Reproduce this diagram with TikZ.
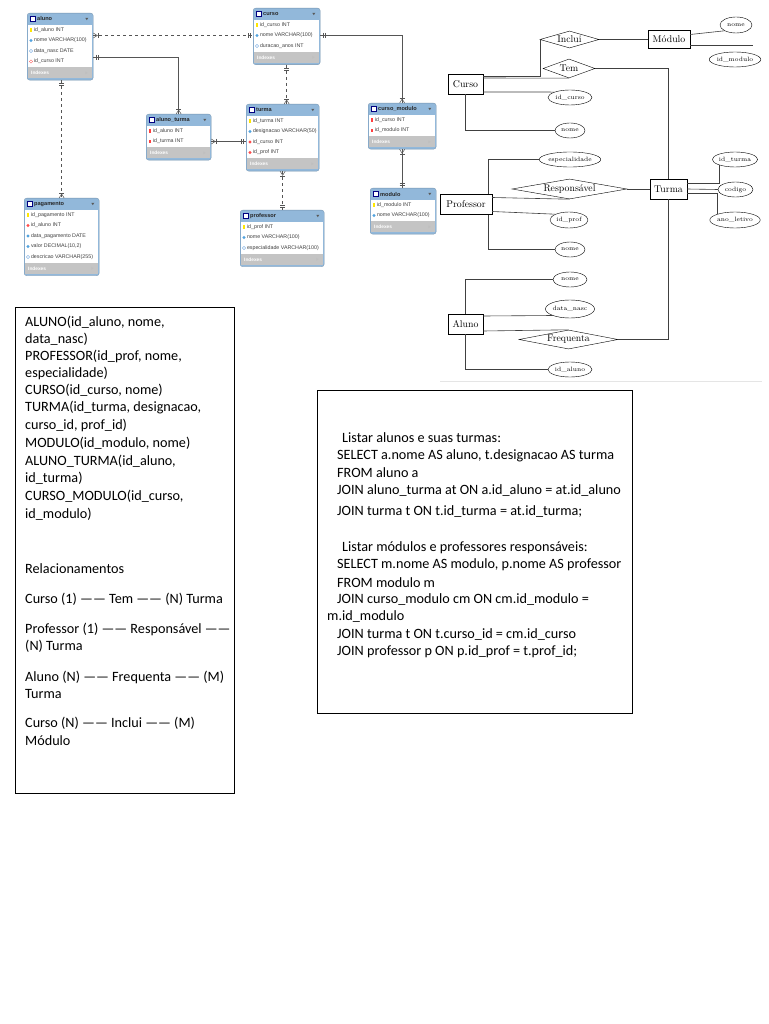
\documentclass[tikz,border=0pt]{standalone}
\usepackage{fontspec}
\usepackage{tikz}
\usetikzlibrary{shapes.geometric}
\usetikzlibrary{calc}

\newfontfamily\calibri{Carlito}
\newfontfamily\wbfont{Liberation Sans}

\definecolor{tazul}{RGB}{146,184,218}
\definecolor{tcinza}{RGB}{196,196,196}
\definecolor{linhacinza}{RGB}{85,85,85}

\tikzset{
  tabela/.style={fill=tazul, draw=tazul!80!black, line width=0.3pt, rounded corners=2.5pt, inner sep=0pt},
  titulo/.style={anchor=west, inner sep=0pt, font=\wbfont\bfseries\fontsize{5.6}{6}\selectfont, text=black!85},
  campo/.style={anchor=west, inner sep=0pt, font=\wbfont\fontsize{5.3}{6}\selectfont, text=black!75},
  indices/.style={anchor=west, inner sep=0pt, font=\wbfont\bfseries\fontsize{4.8}{5}\selectfont, text=white},
  pk/.style={rectangle, fill=yellow!90!orange, minimum width=1.6pt, minimum height=3.4pt, inner sep=0pt},
  fkpk/.style={pk, fill=red!75},
  nn/.style={diamond, fill=cyan!70!blue!70, minimum size=3.6pt, inner sep=0pt},
  nl/.style={diamond, draw=cyan!60!blue!60, line width=0.3pt, fill=white, minimum size=3.4pt, inner sep=0pt},
  fk/.style={nn, fill=red!70},
  fknl/.style={nl, draw=red!60},
  liga/.style={draw=linhacinza, line width=0.6pt},
  muitos/.pic={
    \draw[linhacinza, line width=0.5pt] (0pt,2.5pt) -- (4pt,0pt) -- (0pt,-2.5pt);
    \draw[linhacinza, line width=0.5pt] (5pt,2.5pt) -- (5pt,-2.5pt);
  },
  um/.pic={
    \draw[linhacinza, line width=0.5pt] (3pt,2.5pt) -- (3pt,-2.5pt);
    \draw[linhacinza, line width=0.5pt] (5pt,2.5pt) -- (5pt,-2.5pt);
  },
  entidade/.style={draw, rectangle, inner sep=0pt, font=\fontsize{9.8}{11}\selectfont},
  relacao/.style={draw, diamond, inner sep=0pt, font=\fontsize{9.8}{11}\selectfont},
  atributo/.style={draw, ellipse, inner sep=0pt, font=\fontsize{6.2}{7}\selectfont},
  er/.style={draw=black!75, line width=0.6pt},
  linha/.style={anchor=west, inner sep=0pt, font=\calibri\fontsize{14.2}{17}\selectfont},
}

% tabela do workbench: nome, x, y, largura, n. de campos, titulo, campos
\newcommand{\tabela}[7]{%
  \node[tabela, minimum width=#4pt, minimum height={25pt+#5*10.5pt}, anchor=north west] (#1) at (#2,#3) {};
  \fill[white] ([shift={(1.2pt,-12pt)}]#1.north west) rectangle ([shift={(-1.2pt,13pt)}]#1.south east);
  \fill[tcinza] ([shift={(1.2pt,13pt)}]#1.south west) rectangle ([shift={(-1.2pt,2pt)}]#1.south east);
  \draw[blue!50!black, fill=white, line width=0.3pt] ([shift={(3pt,-3.5pt)}]#1.north west) rectangle ++(5pt,-5pt);
  \node[titulo] (#1-t) at ([shift={(10pt,-6pt)}]#1.north west) {#6};
  \fill[gray!70!black] ([shift={(-8pt,-4.8pt)}]#1.north east) -- ++(3pt,0pt) -- ++(-1.5pt,-2.4pt) -- cycle;
  \foreach \tipo/\nome [count=\i] in {#7} {
    \node[\tipo] at ([shift={(4pt,{-6.5pt-\i*10.5pt})}]#1.north west) {};
    \node[campo] (#1-\i) at ([shift={(6.8pt,{-6.5pt-\i*10.5pt})}]#1.north west) {\nome};
  }
  \node[indices] (#1-x) at ([shift={(4pt,7.5pt)}]#1.south west) {Indexes};
  \fill[gray!50] ([shift={(-8pt,9pt)}]#1.south east) -- ++(2.4pt,-1.5pt) -- ++(-2.4pt,-1.5pt) -- cycle;
}

\begin{document}
\begin{tikzpicture}[x=1pt, y=-1pt]
	\useasboundingbox (0,0) rectangle (768,1024);
	\fill[white] (0,0) rectangle (768,1024);

	% modelo fisico
	\tabela{aluno}{27}{13}{66}{4}{aluno}{pk/{id\_aluno INT}, nn/{nome VARCHAR(100)}, nl/{data\_nasc DATE}, fknl/{id\_curso INT}}
	\tabela{curso}{253}{8}{67}{3}{curso}{pk/{id\_curso INT}, nn/{nome VARCHAR(100)}, nl/{duracao\_anos INT}}
	\tabela{alunoturma}{146}{114}{65}{2}{aluno\_turma}{fkpk/{id\_aluno INT}, fkpk/{id\_turma INT}}
	\tabela{turma}{246}{104}{73}{4}{turma}{pk/{id\_turma INT}, nn/{designacao VARCHAR(50)}, fk/{id\_curso INT}, fk/{id\_prof INT}}
	\tabela{cursomodulo}{368}{103}{68}{2}{curso\_modulo}{fkpk/{id\_curso INT}, fkpk/{id\_modulo INT}}
	\tabela{modulo}{370}{188}{66}{2}{modulo}{pk/{id\_modulo INT}, nn/{nome VARCHAR(100)}}
	\tabela{pagamento}{24}{198}{75}{5}{pagamento}{pk/{id\_pagamento INT}, fk/{id\_aluno INT}, nn/{data\_pagamento DATE}, nn/{valor DECIMAL(10,2)}, nl/{descricao VARCHAR(255)}}
	\tabela{professor}{240}{210}{84}{3}{professor}{pk/{id\_prof INT}, nn/{nome VARCHAR(100)}, nl/{especialidade VARCHAR(100)}}

	\coordinate (c1) at ($(aluno.east |- aluno-4)+(0,-4)$);
	\draw[liga, dashed] (aluno.east |- curso-2) -- (curso.west |- curso-2);
	\draw[liga] (c1) -| (alunoturma.north);
	\draw[liga] (curso.east |- curso-2) -| (cursomodulo.north);
	\draw[liga, dashed] (curso.south) -- (curso.south |- turma.north);
	\draw[liga] (alunoturma.east |- alunoturma-2) -- (turma.west |- alunoturma-2);
	\draw[liga] (cursomodulo.south) -- (cursomodulo.south |- modulo.north);
	\draw[liga, dashed] (turma.south) -- (turma.south |- professor.north);
	\draw[liga, dashed] (pagamento.north |- aluno.south) -- (pagamento.north);
	\pic at (aluno.east |- curso-2) {muitos};
	\pic[rotate=180] at (curso.west |- curso-2) {um};
	\pic at (c1) {um};
	\pic[rotate=90] at (alunoturma.north) {muitos};
	\pic at (curso.east |- curso-2) {um};
	\pic[rotate=90] at (cursomodulo.north) {muitos};
	\pic[rotate=-90] at (curso.south) {um};
	\pic[rotate=90] at (curso.south |- turma.north) {muitos};
	\pic at (alunoturma.east |- alunoturma-2) {muitos};
	\pic[rotate=180] at (turma.west |- alunoturma-2) {um};
	\pic[rotate=-90] at (cursomodulo.south) {muitos};
	\pic[rotate=90] at (cursomodulo.south |- modulo.north) {um};
	\pic[rotate=-90] at (turma.south) {muitos};
	\pic[rotate=90] at (turma.south |- professor.north) {um};
	\pic[rotate=-90] at (pagamento.north |- aluno.south) {um};
	\pic[rotate=90] at (pagamento.north) {muitos};

	% diagrama ER
	\node[entidade, minimum width=35pt, minimum height=20pt] (curso-e) at (465.5,84) {Curso};
	\node[entidade, minimum width=42pt, minimum height=18pt] (modulo-e) at (669,39.5) {Módulo};
	\node[entidade, minimum width=52pt, minimum height=20pt] (prof-e) at (466,204.5) {Professor};
	\node[entidade, minimum width=37pt, minimum height=20pt] (turma-e) at (668.5,189) {Turma};
	\node[entidade, minimum width=35pt, minimum height=20pt] (aluno-e) at (465.5,324) {Aluno};
	\node[relacao, aspect=3.5, minimum width=59pt, minimum height=17pt] (inclui) at (569.5,39.5) {Inclui};
	\node[relacao, aspect=2.7, minimum width=52pt, minimum height=19pt] (tem) at (569,68.5) {Tem};
	\node[relacao, aspect=5.75, minimum width=115pt, minimum height=20pt] (resp) at (569.5,189) {Responsável};
	\node[relacao, aspect=5.2, minimum width=99pt, minimum height=19pt] (freq) at (568.5,339.5) {Frequenta};
	\node[atributo, minimum width=32pt, minimum height=16pt] (a-mnome) at (736,25) {nome};
	\node[atributo, minimum width=50pt, minimum height=15pt] (a-idmod) at (735,59.5) {id\_modulo};
	\node[atributo, minimum width=44pt, minimum height=15pt] (a-idcurso) at (570,97.5) {id\_curso};
	\node[atributo, minimum width=30pt, minimum height=15pt] (a-cnome) at (570,130.5) {nome};
	\node[atributo, minimum width=60pt, minimum height=15pt] (a-esp) at (570,159.5) {especialidade};
	\node[atributo, minimum width=38pt, minimum height=16pt] (a-idprof) at (569,220) {id\_prof};
	\node[atributo, minimum width=30pt, minimum height=15pt] (a-pnome) at (570,249.5) {nome};
	\node[atributo, minimum width=44pt, minimum height=15pt] (a-idturma) at (735,159.5) {id\_turma};
	\node[atributo, minimum width=35pt, minimum height=15pt] (a-codigo) at (735.5,189.5) {codigo};
	\node[atributo, minimum width=50pt, minimum height=16pt] (a-ano) at (735,220) {ano\_letivo};
	\node[atributo, minimum width=34pt, minimum height=15pt] (a-anome) at (570,279.5) {nome};
	\node[atributo, minimum width=48pt, minimum height=18pt] (a-dnasc) at (570,309) {data\_nasc};
	\node[atributo, minimum width=44pt, minimum height=15pt] (a-idaluno) at (570,369.5) {id\_aluno};

	\draw[er] ([yshift=8pt]curso-e.east) -| (inclui.west);
	\draw[er] ([yshift=6pt]curso-e.east) -- (tem.south);
	\draw[er] ([yshift=-8pt]curso-e.east) -- (a-idcurso.north west);
	\draw[er] (curso-e.south) |- (a-cnome.west);
	\draw[er] (inclui.east) -- (modulo-e.west);
	\draw[er] ([yshift=5pt]modulo-e.east) -- (a-mnome.south west);
	\draw[er] ([yshift=-6pt]modulo-e.east) -- ([yshift=-6pt]modulo-e.east -| a-idmod.north east);
	\draw[er] (tem.east) -| (turma-e.north);
	\draw[er] ([xshift=-4pt]prof-e.north east) |- (a-esp.west);
	\draw[er] ([yshift=7pt]prof-e.east) -- (resp.south);
	\draw[er] (resp.east) -- (turma-e.west);
	\draw[er] ([yshift=-7pt]prof-e.east) -- (a-idprof.north west);
	\draw[er] ([xshift=-4pt]prof-e.south east) |- (a-pnome.west);
	\draw[er] ([yshift=6pt]turma-e.east) -| (a-idturma.south west);
	\draw[er] (turma-e.east) -- (a-codigo.west);
	\draw[er] ([yshift=-4pt]turma-e.east) -| (a-ano.north west);
	\draw[er] (freq.east) -| (turma-e.south);
	\draw[er] (aluno-e.north) |- (a-anome.west);
	\draw[er] ([yshift=8pt]aluno-e.east) -- (a-dnasc.south west);
	\draw[er] ([yshift=-7pt]aluno-e.east) -- (freq.north);
	\draw[er] (aluno-e.south) |- (a-idaluno.west);
	\draw[gray!20, line width=1pt] (440,381) -- (762,381);

	% modelo relacional
	\draw[line width=0.8pt] (15,307) rectangle (234,793);
	\foreach \py/\texto [count=\i] in {322/{ALUNO(id\_aluno, nome,}, 339/{data\_nasc)}, 356/{PROFESSOR(id\_prof, nome,}, 373/{especialidade)}, 390/{CURSO(id\_curso, nome)}, 408/{TURMA(id\_turma, designacao,}, 425/{curso\_id, prof\_id)}, 443/{MODULO(id\_modulo, nome)}, 461/{ALUNO\_TURMA(id\_aluno,}, 478/{id\_turma)}, 496/{CURSO\_MODULO(id\_curso,}, 514/{id\_modulo)}, 569/{Relacionamentos}, 599/{Curso (1) —— Tem —— (N) Turma}, 629/{Professor (1) —— Responsável ——}, 646/{(N) Turma}, 677/{Aluno (N) —— Frequenta —— (M)}, 694/{Turma}, 723/{Curso (N) —— Inclui —— (M)}, 741/{Módulo}}
		\node[linha] (rel-\i) at (25,\py) {\texto};

	% consultas SQL
	\draw[line width=0.8pt] (317,390) rectangle (632,713);
	\foreach \px/\py/\texto [count=\i] in {342/438/{Listar alunos e suas turmas:}, 337/456/{SELECT a.nome AS aluno, t.designacao AS turma}, 337/473/{FROM aluno a}, 337/491/{JOIN aluno\_turma at ON a.id\_aluno = at.id\_aluno}, 337/512/{JOIN turma t ON t.id\_turma = at.id\_turma;}, 342/548/{Listar módulos e professores responsáveis:}, 337/565/{SELECT m.nome AS modulo, p.nome AS professor}, 337/583/{FROM modulo m}, 337/600/{JOIN curso\_modulo cm ON cm.id\_modulo =}, 327/617/{m.id\_modulo}, 337/635/{JOIN turma t ON t.curso\_id = cm.id\_curso}, 337/652/{JOIN professor p ON p.id\_prof = t.prof\_id;}}
		\node[linha] (sql-\i) at (\px,\py) {\texto};
\end{tikzpicture}
\end{document}
